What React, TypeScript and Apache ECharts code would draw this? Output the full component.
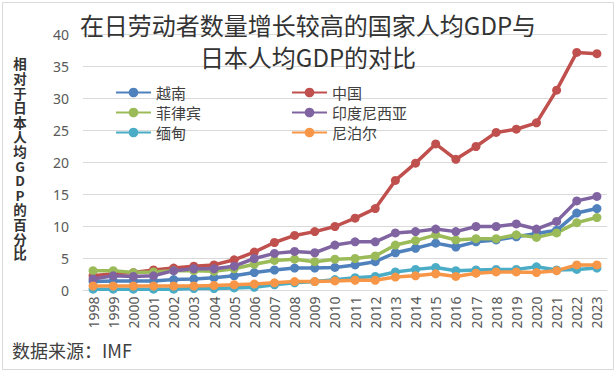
import React, { useEffect, useRef } from "react";
import * as echarts from "echarts";

const years = ["1998","1999","2000","2001","2002","2003","2004","2005","2006","2007","2008","2009","2010","2011","2012","2013","2014","2015","2016","2017","2018","2019","2020","2021","2022","2023"];
const yTicks = [0, 5, 10, 15, 20, 25, 30, 35, 40];

const vietnam = [1.4,1.5,1.5,1.5,1.7,1.8,2.0,2.3,2.8,3.2,3.5,3.5,3.6,4.0,4.5,5.9,6.6,7.4,6.8,7.6,7.9,8.4,8.9,9.4,12.1,12.8];
const china = [2.3,2.6,2.8,3.2,3.5,3.8,4.0,4.8,6.0,7.5,8.6,9.2,10.0,11.3,12.8,17.2,19.9,22.9,20.5,22.5,24.7,25.2,26.2,31.3,37.2,37.0];
const philippines = [3.1,3.1,2.8,2.9,3.1,3.1,3.0,3.4,4.1,4.7,4.9,4.5,4.9,5.0,5.4,7.1,7.8,8.7,7.9,8.1,8.1,8.7,8.3,9.0,10.6,11.4];
const indonesia = [1.8,2.3,2.2,2.3,3.1,3.4,3.4,3.8,5.0,5.8,6.1,5.9,7.1,7.6,7.6,9.0,9.2,9.6,9.2,10.0,10.0,10.4,9.6,10.8,14.0,14.7];
const myanmar = [0.2,0.2,0.2,0.2,0.2,0.3,0.3,0.4,0.5,0.9,1.2,1.4,1.7,2.0,2.2,2.9,3.3,3.6,3.1,3.2,3.3,3.3,3.7,3.2,3.3,3.5];
const nepal = [0.7,0.7,0.7,0.7,0.7,0.7,0.8,0.9,1.0,1.2,1.4,1.4,1.5,1.6,1.6,2.1,2.3,2.6,2.2,2.7,2.9,2.9,2.8,3.1,4.0,4.0];

const seriesNames = ["越南", "中国", "菲律宾", "印度尼西亚", "缅甸", "尼泊尔"];
const seriesData = [vietnam, china, philippines, indonesia, myanmar, nepal];
const colors = ["#4F81BD", "#C0504D", "#9BBB59", "#8064A2", "#4BACC6", "#F79646"];

const titleText = "在日劳动者数量增长较高的国家人均GDP与\n日本人均GDP的对比";
const yName = "相对于日本人均GDP的百分比";
const sourceText = "数据来源：IMF";

const FONT = "Noto Sans CJK SC";
const NUMFONT = "Noto Sans";

export default function App() {
  const ref = useRef<HTMLDivElement>(null);
  useEffect(() => {
    if (!ref.current) return;
    const chart = echarts.init(ref.current, undefined, { renderer: "svg" });
    const legendCommon = {
      orient: "vertical",
      itemWidth: 35,
      itemHeight: 12,
      itemGap: 5,
      padding: 0,
      textStyle: { fontSize: 15, color: "#404040", fontFamily: FONT, lineHeight: 14 },
    };
    const yNameChars = yName.split("").map((ch, i) => ({
      type: "text",
      x: 20,
      y: 63.3 + i * 14.6,
      style: {
        text: ch,
        fontSize: 13.5,
        lineHeight: 13,
        fontWeight: "bold",
        fill: "#333333",
        align: "center",
        verticalAlign: "middle",
        fontFamily: FONT,
      },
    }));
    chart.setOption({
      animation: false,
      backgroundColor: "#ffffff",
      color: colors,
      textStyle: { fontFamily: FONT },
      title: {
        text: titleText,
        left: "center",
        top: 8,
        padding: 0,
        textStyle: { fontSize: 24, lineHeight: 32, fontWeight: "normal", color: "#333333", fontFamily: FONT },
      },
      legend: [
        { ...legendCommon, left: 115, top: 85, data: ["越南", "菲律宾", "缅甸"] },
        { ...legendCommon, left: 291, top: 85, data: ["中国", "印度尼西亚", "尼泊尔"] },
      ],
      grid: { left: 83, right: 9, top: 34.5, bottom: 81.5 },
      xAxis: {
        type: "category",
        data: years,
        boundaryGap: true,
        axisLine: { lineStyle: { color: "#d9d9d9", width: 1 } },
        axisTick: { show: false },
        axisLabel: { rotate: 90, fontSize: 14, color: "#595959", margin: 6, fontFamily: NUMFONT },
      },
      yAxis: {
        type: "value",
        min: yTicks[0],
        max: yTicks[yTicks.length - 1],
        interval: 5,
        axisLine: { show: false },
        axisTick: { show: false },
        splitLine: { lineStyle: { color: "#d9d9d9", width: 1 } },
        axisLabel: { fontSize: 14, color: "#595959", margin: 14, fontFamily: NUMFONT },
      },
      graphic: [
        {
          type: "rect",
          shape: { x: 2.5, y: 2.5, width: 611, height: 367 },
          style: { fill: "none", stroke: "#d9d9d9", lineWidth: 1 },
          silent: true,
        },
        ...yNameChars,
        {
          type: "text",
          left: 12,
          top: 341,
          style: { text: sourceText, fontSize: 18, fill: "#404040", fontFamily: FONT },
        },
      ],
      series: seriesNames.map((name, i) => ({
        name,
        type: "line",
        data: seriesData[i],
        symbol: "circle",
        symbolSize: 9,
        lineStyle: { width: 3.5, color: colors[i] },
        itemStyle: { color: colors[i] },
      })),
    });
    return () => chart.dispose();
  }, []);
  return <div ref={ref} style={{ position: "fixed", left: 0, top: 0, width: 616, height: 372 }} />;
}
